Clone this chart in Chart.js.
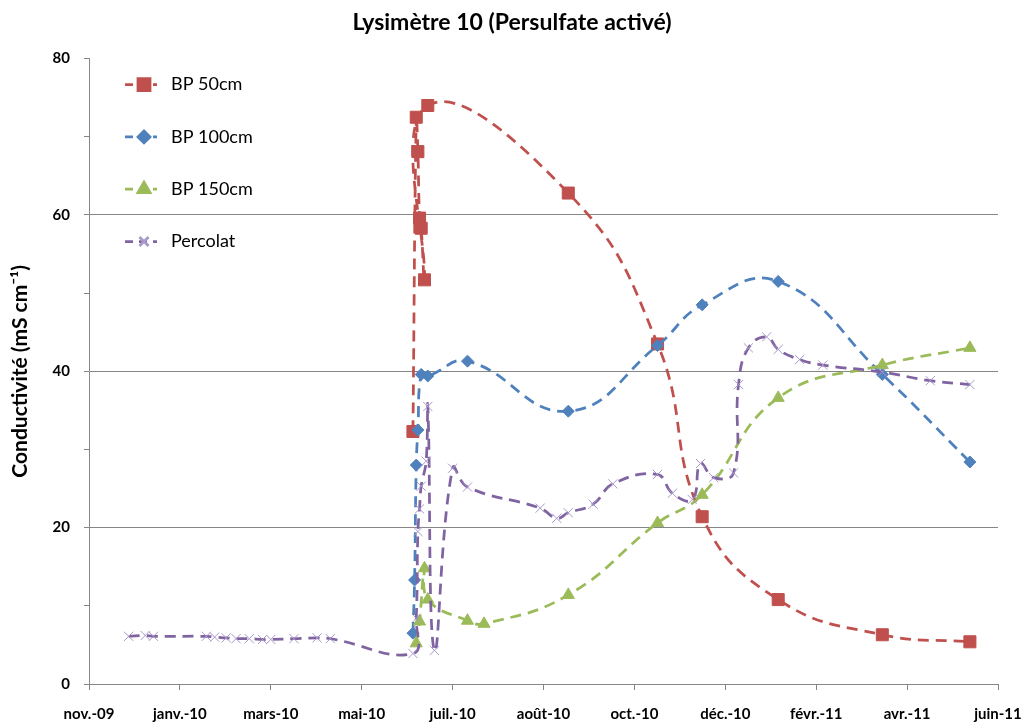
<!DOCTYPE html>
<html lang="fr">
<head>
<meta charset="utf-8">
<title>Lysimètre 10</title>
<script src="https://cdn.jsdelivr.net/npm/chart.js@4.4.1/dist/chart.umd.min.js"></script>
<style>
  html, body { margin: 0; padding: 0; background: #fff; }
  #chart { display: block; }
</style>
</head>
<body>
<canvas id="chart" width="1024" height="723"></canvas>
<script>
// Conductivité (mS/cm) par date de prélèvement
const dates50 = ['2010-06-12', '2010-06-14', '2010-06-15', '2010-06-16', '2010-06-17', '2010-06-19', '2010-06-21',
                 '2010-09-14', '2010-11-07', '2010-12-04', '2011-01-19', '2011-03-23', '2011-05-15'];
const bp50 = [32.3, 72.5, 68.1, 59.6, 58.3, 51.7, 74.0, 62.8, 43.5, 21.4, 10.8, 6.3, 5.4];

const dates100 = ['2010-06-12', '2010-06-13', '2010-06-14', '2010-06-15', '2010-06-17', '2010-06-21', '2010-07-15',
                  '2010-09-14', '2010-11-07', '2010-12-04', '2011-01-19', '2011-03-23', '2011-05-15'];
const bp100 = [6.5, 13.3, 28.0, 32.5, 39.6, 39.4, 41.3, 34.9, 43.3, 48.5, 51.5, 39.6, 28.4];

const dates150 = ['2010-06-14', '2010-06-16', '2010-06-19', '2010-06-21', '2010-07-15', '2010-07-25',
                  '2010-09-14', '2010-11-07', '2010-12-04', '2011-01-19', '2011-03-23', '2011-05-15'];
const bp150 = [5.2, 8.0, 14.8, 10.8, 8.1, 7.7, 11.4, 20.6, 24.2, 36.6, 40.8, 43.0];

const datesPerc = ['2009-12-22', '2010-01-01', '2010-01-06', '2010-02-07', '2010-02-12', '2010-02-19', '2010-02-25',
                   '2010-03-05', '2010-03-13', '2010-03-18', '2010-04-01', '2010-04-15', '2010-04-23',
                   '2010-06-12', '2010-06-14', '2010-06-15', '2010-06-16', '2010-06-17', '2010-06-20', '2010-06-21',
                   '2010-06-25', '2010-07-06', '2010-07-15', '2010-08-28', '2010-09-07', '2010-09-14', '2010-09-29',
                   '2010-10-11', '2010-11-07', '2010-11-16', '2010-11-28', '2010-12-03', '2010-12-11', '2010-12-23',
                   '2010-12-26', '2011-01-01', '2011-01-12', '2011-01-19', '2011-02-01', '2011-02-15', '2011-03-23',
                   '2011-04-21', '2011-05-15'];
const percolat = [6.1, 6.2, 6.1, 6.1, 6.0, 5.9, 5.8,
                  5.8, 5.7, 5.7, 5.8, 5.9, 5.8,
                  3.9, 8.4, 19.5, 22.4, 25.3, 28.5, 35.5,
                  4.3, 27.6, 25.2, 22.5, 21.2, 21.9, 23.0,
                  25.6, 26.8, 24.4, 23.6, 28.2, 26.4, 27.0,
                  38.3, 43.0, 44.4, 42.8, 41.5, 40.8, 39.9,
                  38.8, 38.3];

const moisFr = ['janv.', 'févr.', 'mars', 'avr.', 'mai', 'juin', 'juil.', 'août', 'sept.', 'oct.', 'nov.', 'déc.'];

// axe des dates en jours, une graduation tous les 55 jours
const DAY = 86400000;
const toDay = s => Date.parse(s + 'T00:00:00Z') / DAY;
const axisStart = toDay('2009-11-28');
const axisStep = 55;
const axisEnd = axisStart + 10 * axisStep;

function points(dates, values) {
    return dates.map((d, i) => ({ x: toDay(d), y: values[i] }));
}

function dateLabel(day) {
    const d = new Date(Math.round(day) * DAY);
    return moisFr[d.getUTCMonth()] + '-' + String(d.getUTCFullYear()).slice(2);
}

function serie(label, data, color, style) {
    return Object.assign({
        label: label,
        data: data,
        showLine: true,
        fill: false,
        borderColor: color,
        backgroundColor: color,
        borderWidth: 2.75,
        borderDash: [11, 7],
        tension: 0.45,
        pointBackgroundColor: color,
        pointBorderColor: color,
        pointBorderWidth: 1,
        pointHoverRadius: 0
    }, style);
}

// légende dessinée dans la zone du graphique, en haut à gauche
const insideLegend = {
    id: 'insideLegend',
    afterDraw(chart) {
        const ctx = chart.ctx;
        const area = chart.chartArea;
        const left = area.left + 36;
        chart.data.datasets.forEach((ds, i) => {
            const y = area.top + 26 + i * 52.3;
            ctx.save();
            ctx.strokeStyle = ds.borderColor;
            ctx.lineWidth = ds.borderWidth;
            ctx.setLineDash([8, 6]);
            ctx.beginPath();
            ctx.moveTo(left, y);
            ctx.lineTo(left + 32, y);
            ctx.stroke();
            ctx.setLineDash([]);
            ctx.fillStyle = ds.pointBackgroundColor;
            ctx.strokeStyle = ds.pointBorderColor;
            Chart.helpers.drawPoint(ctx, {
                pointStyle: ds.pointStyle,
                radius: ds.pointRadius,
                borderWidth: ds.pointBorderWidth,
                rotation: 0
            }, left + 19, y);
            ctx.fillStyle = '#000';
            ctx.font = '18px Lato';
            ctx.textBaseline = 'middle';
            ctx.fillText(ds.label, left + 46, y);
            ctx.restore();
        });
    }
};

const tickFont = { family: 'Lato', size: 15, weight: 'bold' };
const gris = '#868686';

const ctx = document.getElementById('chart').getContext('2d');
const chart = new Chart(ctx, {
    type: 'scatter',
    data: {
        datasets: [
            serie('BP 50cm', points(dates50, bp50), '#C0504D', { pointStyle: 'rect', pointRadius: 8.5, order: 4 }),
            serie('BP 100cm', points(dates100, bp100), '#4F81BD', { pointStyle: 'rectRot', pointRadius: 6, order: 3 }),
            serie('BP 150cm', points(dates150, bp150), '#9BBB59', { pointStyle: 'triangle', pointRadius: 7, order: 2 }),
            serie('Percolat', points(datesPerc, percolat), '#8064A2', {
                pointStyle: 'crossRot', pointRadius: 6.5, order: 1,
                pointBorderColor: '#A898CB', pointBackgroundColor: 'rgba(0,0,0,0)'
            })
        ]
    },
    options: {
        responsive: false,
        animation: false,
        devicePixelRatio: 1,
        layout: { padding: { left: 0, right: 0, top: 0, bottom: 0 } },
        plugins: {
            legend: { display: false },
            tooltip: { enabled: false },
            title: {
                display: true,
                text: 'Lysimètre 10 (Persulfate activé)',
                color: '#000',
                font: { family: 'Lato', size: 23, weight: 'bold' },
                padding: { top: 9, bottom: 22 }
            }
        },
        scales: {
            x: {
                type: 'linear',
                min: axisStart,
                max: axisEnd,
                ticks: {
                    stepSize: axisStep,
                    autoSkip: false,
                    maxRotation: 0,
                    color: '#000',
                    font: tickFont,
                    padding: 15,
                    callback: v => dateLabel(v)
                },
                grid: { drawOnChartArea: false, tickColor: gris, tickLength: 6 },
                border: { color: gris },
                // marge droite fixe pour que la fin de l'axe tombe sous juin-11
                afterFit: s => {
                    s.height = 39;
                    s.paddingLeft = 0;
                    s.paddingRight = 26;
                }
            },
            y: {
                min: 0,
                max: 80,
                ticks: {
                    stepSize: 10,
                    color: '#000',
                    font: tickFont,
                    padding: 14,
                    callback: v => (v % 20 === 0 ? v : '')
                },
                grid: {
                    color: c => (c.tick && c.tick.value % 20 === 0 && c.tick.value > 0 && c.tick.value < 80) ? gris : 'rgba(0,0,0,0)',
                    tickColor: gris,
                    tickLength: 5
                },
                border: { color: gris },
                title: {
                    display: true,
                    text: 'Conductivité (mS cm⁻¹)',
                    color: '#000',
                    font: { family: 'Lato', size: 21, weight: 'bold' },
                    padding: { top: 8, bottom: 0 }
                },
                afterFit: s => { s.width = 89; }
            }
        }
    },
    plugins: [insideLegend]
});
</script>
</body>
</html>
